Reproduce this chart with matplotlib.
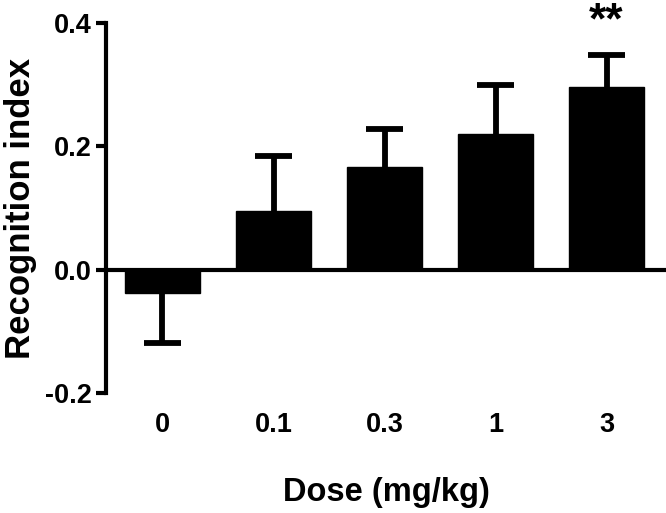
import matplotlib
matplotlib.use("Agg")
import matplotlib.pyplot as plt
import numpy as np

plt.rcParams['font.family'] = ['Liberation Sans', 'DejaVu Sans']
plt.rcParams['font.weight'] = 'bold'

doses = ["0", "0.1", "0.3", "1", "3"]
means = [-0.038, 0.095, 0.166, 0.220, 0.296]
sems = [0.081, 0.089, 0.062, 0.079, 0.052]
sig = ["", "", "", "", "**"]

fig = plt.figure(figsize=(6.66, 5.13), dpi=100)
ax = fig.add_axes([106/666, 1-393/513, 1-106/666, (393-23)/513])

x = np.arange(len(doses))
ends = [m - s if m < 0 else m + s for m, s in zip(means, sems)]
cap_half = 0.17
ax.vlines(x, means, ends, color='black', lw=4.2, zorder=1)
ax.hlines(ends, x - cap_half, x + cap_half, color='black', lw=4.2, zorder=1)
ax.bar(x, means, width=0.676, color='black', edgecolor='black', zorder=2)
ax.axhline(0, color='black', lw=3, zorder=3, clip_on=False)

for xi, e, t in zip(x, ends, sig):
    if t:
        ax.text(xi, e + 0.035, t, ha='center', va='baseline',
                fontsize=32, fontweight='bold')

ax.set_xlim(-0.509, 4.536)
ax.set_ylim(-0.2, 0.4)
ax.set_yticks([-0.2, 0.0, 0.2, 0.4])
ax.set_yticklabels(["-0.2", "0.0", "0.2", "0.4"])
ax.set_xticks(x)
ax.set_xticklabels(doses)

for sp in ['top', 'right', 'bottom']:
    ax.spines[sp].set_visible(False)
ax.spines['left'].set_linewidth(3)
ax.tick_params(axis='y', direction='out', length=7, width=3, labelsize=19.5, pad=3)
ax.tick_params(axis='x', length=0, labelsize=19.5, pad=14)

ax.set_xlabel("Dose (mg/kg)", fontsize=23.5, fontweight='bold', labelpad=28)
ax.set_ylabel("Recognition index", fontsize=25, fontweight='bold', labelpad=6)

fig.savefig("out.png", dpi=100)
